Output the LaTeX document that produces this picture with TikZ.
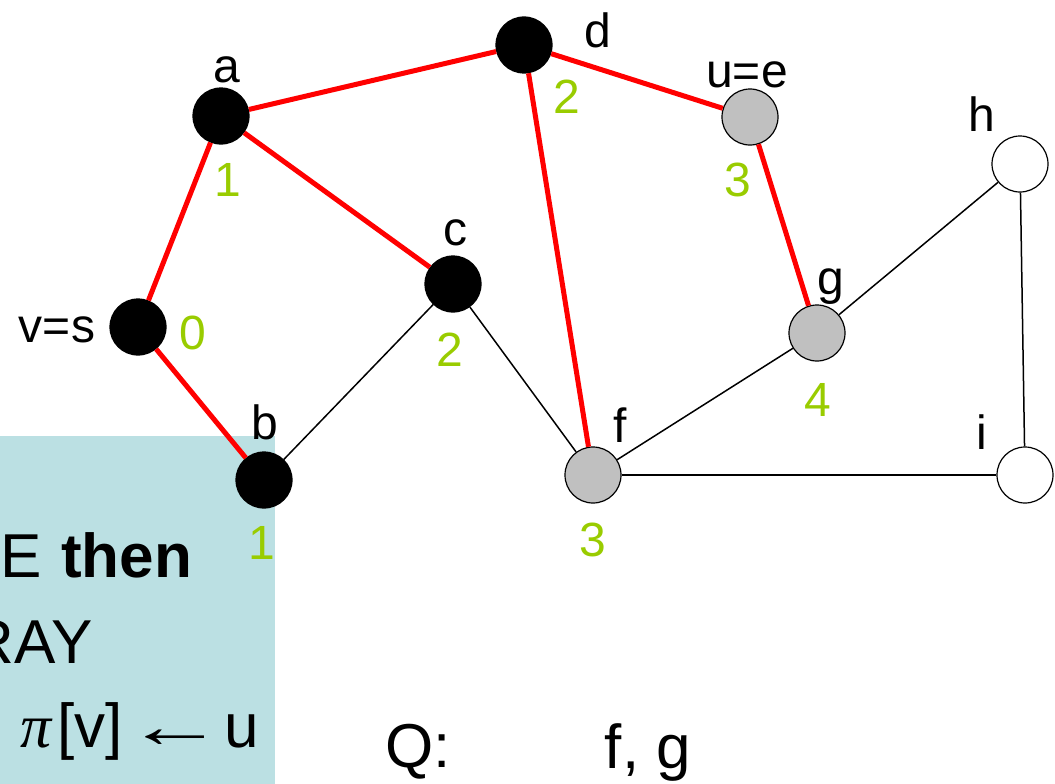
\documentclass[tikz,border=0pt]{standalone}
\usepackage{fontspec}
\usepackage{graphicx}
\setmainfont{Liberation Sans}
\newfontfamily\serff{Liberation Serif}
\definecolor{boxc}{HTML}{BBE0E3}
\definecolor{grn}{HTML}{99CC00}
\definecolor{gryf}{HTML}{C0C0C0}
\tikzset{
  vert/.style={circle, draw=black, line width=1.2pt, minimum size=56pt, inner sep=0pt},
  blk/.style={vert, fill=black},
  gry/.style={vert, fill=gryf},
  wht/.style={vert, fill=white},
  lab/.style={inner sep=0pt, font=\fontsize{48}{48}\selectfont},
  num/.style={lab, text=grn},
  big/.style={inner sep=0pt, font=\fontsize{62}{62}\selectfont},
  tree/.style={draw=red, line width=5pt},
  plain/.style={draw=black, line width=1.5pt}
}
\begin{document}
\begin{tikzpicture}[x=1pt,y=-1pt]
\useasboundingbox (0,0) rectangle (1055,784);
\fill[boxc] (0,436) rectangle (275,784);
\begin{scope}
\clip (0,436) rectangle (275,784);
\node[big, anchor=base east] (t2) at (93,663) {GRAY};
\end{scope}
\node[big, anchor=base west] (t1a) at (0,577) {E};
\node[big, anchor=base west] (t1b) at (61,577) {\textbf{then}};
\node[big, anchor=base west, font=\fontsize{62}{62}\selectfont\serff\itshape] (t3a) at (20,747) {π};
\node[big, anchor=base west] (t3b) at (57,747) {[v]};
\node[big, anchor=base, font=\fontsize{62}{62}\selectfont\serff] (t3c) at (175,747) {\scalebox{1.6}[1]{←}};
\node[big, anchor=base west] (t3d) at (224,747) {u};
% vertices
\node[blk] (s) at (138,327) {};
\node[blk] (a) at (221,116) {};
\node[blk] (d) at (524,45) {};
\node[gry] (e) at (750,117) {};
\node[blk] (c) at (453,284) {};
\node[blk] (b) at (264,480) {};
\node[gry] (f) at (593,475) {};
\node[gry] (g) at (817,333) {};
\node[wht] (h) at (1020,164) {};
\node[wht] (i) at (1025,475) {};
% edges
\path[plain] (b) -- (c);
\path[plain] (c) -- (f);
\path[plain] (f) -- (g);
\path[plain] (g) -- (h);
\path[plain] (h) -- (i);
\path[plain] (f) -- (i);
\path[tree] (s) -- (a);
\path[tree] (s) -- (b);
\path[tree] (a) -- (d);
\path[tree] (a) -- (c);
\path[tree] (d) -- (e);
\path[tree] (d) -- (f);
\path[tree] (e) -- (g);
% labels
\node[lab] (la) at (227,70) {a};
\node[num] (na) at (228,180) {1};
\node[lab] (ls) at (57,330) {v=s};
\node[num] (ns) at (193,333) {0};
\node[lab] (ld) at (598,30) {d};
\node[num] (nd) at (567,97) {2};
\node[lab] (le) at (747,75) {u=e};
\node[num] (ne) at (738,180) {3};
\node[lab] (lh) at (982,114) {h};
\node[lab] (lc) at (455,233) {c};
\node[num] (nc) at (450,350) {2};
\node[lab] (lg) at (831,287) {g};
\node[num] (ng) at (818,400) {4};
\node[lab] (lb) at (265,422) {b};
\node[num] (nb) at (262,543) {1};
\node[lab] (lf) at (620,425) {f};
\node[num] (nf) at (593,540) {3};
\node[lab] (li) at (982,432) {i};
\node[big] (q) at (418,752) {Q:};
\node[big] (qf) at (648,752) {f, g};
\end{tikzpicture}
\end{document}
